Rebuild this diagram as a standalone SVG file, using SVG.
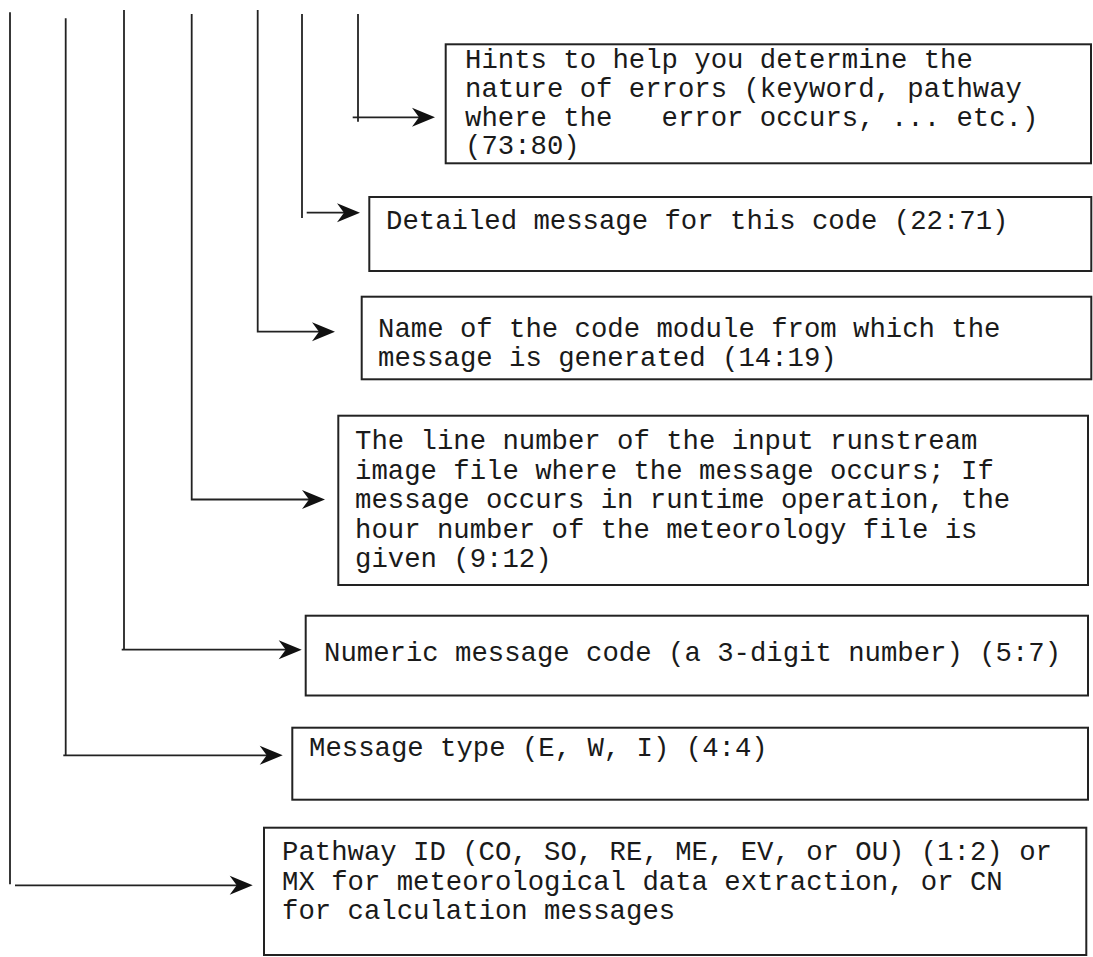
<svg xmlns="http://www.w3.org/2000/svg" width="1093" height="957" viewBox="0 0 1093 957">
<style>
.box{fill:#fff;stroke:#222;stroke-width:2}
.ln{fill:none;stroke:#222;stroke-width:1.8}
.t{font-family:"Liberation Mono","Courier New",monospace;font-size:27.3px;fill:#1a1a1a;white-space:pre}
</style>
<defs>
<marker id="ah" markerUnits="userSpaceOnUse" viewBox="-24 -11 26 22" markerWidth="26" markerHeight="22" refX="-10" refY="0" orient="auto">
<path d="M0,0 L-23,-9.5 L-16,0 L-23,9.5 Z" fill="#111"/>
</marker>
</defs>
<rect width="1093" height="957" fill="#fff"/>
<g id="connectors">
<path class="ln" d="M358,14 V121.7"/>
<path class="ln" d="M352.7,117.3 H425" marker-end="url(#ah)"/>
<path class="ln" d="M302,14 V218"/>
<path class="ln" d="M306.7,212.7 H350" marker-end="url(#ah)"/>
<path class="ln" d="M257.7,10 V331.7 H325" marker-end="url(#ah)"/>
<path class="ln" d="M191.7,14 V499.5 H315" marker-end="url(#ah)"/>
<path class="ln" d="M124,10 V649.7"/>
<path class="ln" d="M121.7,649.7 H291.7" marker-end="url(#ah)"/>
<path class="ln" d="M65.7,18.3 V755.3"/>
<path class="ln" d="M63.3,755.3 H272.7" marker-end="url(#ah)"/>
<path class="ln" d="M10,12.3 V884.3"/>
<path class="ln" d="M15,885.3 H242.7" marker-end="url(#ah)"/>
</g>
<g id="hints">
<rect class="box" x="445.7" y="44.3" width="645.3" height="119"/>
<text class="t" x="465" y="68.3">Hints to help you determine the</text>
<text class="t" x="465" y="97">nature of errors (keyword, pathway</text>
<text class="t" x="465" y="125.7">where the   error occurs, ... etc.)</text>
<text class="t" x="465" y="154.4">(73:80)</text>
</g>
<g id="detailed">
<rect class="box" x="369.3" y="197" width="722" height="74"/>
<text class="t" x="386" y="229">Detailed message for this code (22:71)</text>
</g>
<g id="module">
<rect class="box" x="361.7" y="296.7" width="729.6" height="82.6"/>
<text class="t" x="378" y="337">Name of the code module from which the</text>
<text class="t" x="378" y="366">message is generated (14:19)</text>
</g>
<g id="linenumber">
<rect class="box" x="338.3" y="415.7" width="749.7" height="169.3"/>
<text class="t" x="355" y="449">The line number of the input runstream</text>
<text class="t" x="355" y="478.5">image file where the message occurs; If</text>
<text class="t" x="355" y="508">message occurs in runtime operation, the</text>
<text class="t" x="355" y="537.5">hour number of the meteorology file is</text>
<text class="t" x="355" y="567">given (9:12)</text>
</g>
<g id="numeric">
<rect class="box" x="305.7" y="615.7" width="782.3" height="79.8"/>
<text class="t" x="324" y="661">Numeric message code (a 3-digit number) (5:7)</text>
</g>
<g id="msgtype">
<rect class="box" x="292.3" y="727.7" width="795.7" height="72"/>
<text class="t" x="309" y="756">Message type (E, W, I) (4:4)</text>
</g>
<g id="pathway">
<rect class="box" x="264" y="827.7" width="822.3" height="127.3"/>
<text class="t" x="282" y="860">Pathway ID (CO, SO, RE, ME, EV, or OU) (1:2) or</text>
<text class="t" x="282" y="889.5">MX for meteorological data extraction, or CN</text>
<text class="t" x="282" y="918.5">for calculation messages</text>
</g>
</svg>
